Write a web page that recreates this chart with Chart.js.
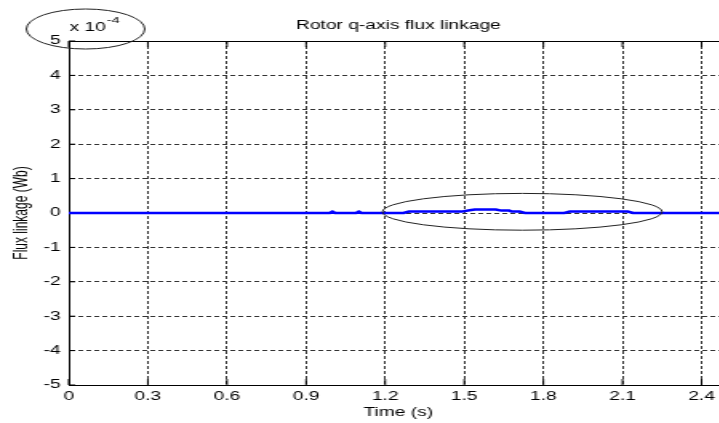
<!DOCTYPE html>
<html>
<head>
<meta charset="utf-8">
<script src="https://cdn.jsdelivr.net/npm/chart.js@4.4.1/dist/chart.umd.min.js"></script>
<style>
  html, body { margin: 0; padding: 0; overflow: hidden; background: #fff; }
  /* the figure is drawn narrow and widened horizontally */
  #frame { position: absolute; left: 0; top: 0; width: 455px; height: 423px;
           transform: scaleX(1.6); transform-origin: 0 0; }
</style>
</head>
<body>
<div id="frame"><canvas id="flux" width="455" height="423"></canvas></div>
<script>
// Rotor q-axis flux linkage over time; flux values in units of 1e-4 Wb
const timeS  = [0, 0.99, 1.0, 1.01, 1.09, 1.1, 1.11, 1.27, 1.29, 1.49, 1.52, 1.54, 1.62, 1.64, 1.67, 1.68, 1.71, 1.73, 1.88, 1.9, 2.12, 2.14, 2.5];
const fluxE4 = [0, 0,    0.04, 0,   0,    0.04, 0,   0,    0.04, 0.04, 0.08, 0.1,  0.1,  0.07, 0.07, 0.04, 0.04, 0,    0,    0.04, 0.04, 0,    0];

const timeTicks = [0, 0.3, 0.6, 0.9, 1.2, 1.5, 1.8, 2.1, 2.4];
const fluxTicks = [-5, -4, -3, -2, -1, 0, 1, 2, 3, 4, 5];
const timeRange = [0, 2.5];
const fluxRange = [-5, 5];
const exponentLabel = ['x 10', '-4'];

// marked region around the disturbance (time in s, flux in 1e-4 Wb)
const marked = { t0: 1.19, t1: 2.25, f0: -0.5, f1: 0.57 };

const FONT = 'Liberation Sans, Arial, sans-serif';
Chart.defaults.font.family = FONT;
Chart.defaults.color = '#000';

const gridStyle = { color: '#333', lineWidth: 1, drawTicks: false };
const borderStyle = { display: true, color: '#000', width: 1, dash: [3, 2] };

// short tick marks drawn inside the axes box
const innerTicks = {
  id: 'innerTicks',
  beforeDatasetsDraw(chart) {
    const { ctx, chartArea: a, scales } = chart;
    const x = scales.x, y = scales.y;
    ctx.save();
    ctx.strokeStyle = '#000';
    ctx.lineWidth = 1;
    ctx.beginPath();
    timeTicks.forEach(t => {
      const px = x.getPixelForValue(t);
      ctx.moveTo(px, a.bottom); ctx.lineTo(px, a.bottom - 6);
      ctx.moveTo(px, a.top);    ctx.lineTo(px, a.top + 6);
    });
    fluxTicks.forEach(v => {
      const py = y.getPixelForValue(v);
      ctx.moveTo(a.left, py); ctx.lineTo(a.left + 4, py);
    });
    ctx.stroke();
    ctx.restore();
  }
};

// axis exponent and the two hand-drawn ellipses
const notes = {
  id: 'notes',
  afterDraw(chart) {
    const { ctx, chartArea: a, scales } = chart;
    const x = scales.x, y = scales.y;
    ctx.save();
    ctx.fillStyle = '#000';
    ctx.textBaseline = 'alphabetic';
    ctx.textAlign = 'left';
    ctx.font = '12px ' + FONT;
    const ex = a.left + 0.5;
    ctx.fillText(exponentLabel[0], ex, a.top - 10);
    const w = ctx.measureText(exponentLabel[0]).width;
    ctx.font = '9px ' + FONT;
    ctx.fillText(exponentLabel[1], ex + w + 0.5, a.top - 18);

    ctx.strokeStyle = '#222';
    ctx.lineWidth = 1;
    ctx.beginPath();
    ctx.ellipse(a.left + 10.5, a.top - 12, 37, 20, 0, 0, Math.PI * 2);
    ctx.stroke();

    const l = x.getPixelForValue(marked.t0), r = x.getPixelForValue(marked.t1);
    const t = y.getPixelForValue(marked.f1), b = y.getPixelForValue(marked.f0);
    ctx.beginPath();
    ctx.ellipse((l + r) / 2, (t + b) / 2, (r - l) / 2, (b - t) / 2, 0, 0, Math.PI * 2);
    ctx.stroke();
    ctx.restore();
  }
};

new Chart(document.getElementById('flux'), {
  type: 'scatter',
  data: {
    datasets: [{
      data: timeS.map((t, i) => ({ x: t, y: fluxE4[i] })),
      showLine: true,
      borderColor: '#0000ff',
      borderWidth: 2.5,
      pointRadius: 0,
      tension: 0
    }]
  },
  options: {
    responsive: false,
    animation: false,
    layout: { padding: 0 },
    plugins: { legend: { display: false }, tooltip: { enabled: false } },
    scales: {
      x: {
        type: 'linear', position: 'bottom',
        min: timeRange[0], max: timeRange[1],
        afterBuildTicks: s => { s.ticks = timeTicks.map(v => ({ value: v })); },
        afterFit: s => { s.height = 38; },
        ticks: { autoSkip: false, maxRotation: 0, padding: 4, font: { size: 12 }, callback: v => String(v) },
        grid: gridStyle,
        border: borderStyle,
        title: { display: true, text: 'Time (s)', font: { size: 12 }, padding: { top: 0, bottom: 3.5 } }
      },
      top: {
        type: 'linear', position: 'top',
        min: timeRange[0], max: timeRange[1],
        afterFit: s => { s.height = 41; },
        ticks: { display: false },
        grid: { display: false, drawTicks: false },
        border: { display: true, color: '#000', width: 1 },
        title: { display: true, text: 'Rotor q-axis flux linkage', font: { size: 12 }, padding: { top: 18, bottom: 0 } }
      },
      y: {
        type: 'linear', position: 'left',
        min: fluxRange[0], max: fluxRange[1],
        afterBuildTicks: s => { s.ticks = fluxTicks.map(v => ({ value: v })); },
        afterFit: s => { s.width = 43; },
        ticks: { padding: 5, font: { size: 12 }, callback: v => String(v) },
        grid: gridStyle,
        border: borderStyle,
        title: { display: true, text: 'Flux linkage (Wb)', font: { size: 12 }, padding: { top: 6.5, bottom: 0 } }
      }
    }
  },
  plugins: [innerTicks, notes]
});
</script>
</body>
</html>
